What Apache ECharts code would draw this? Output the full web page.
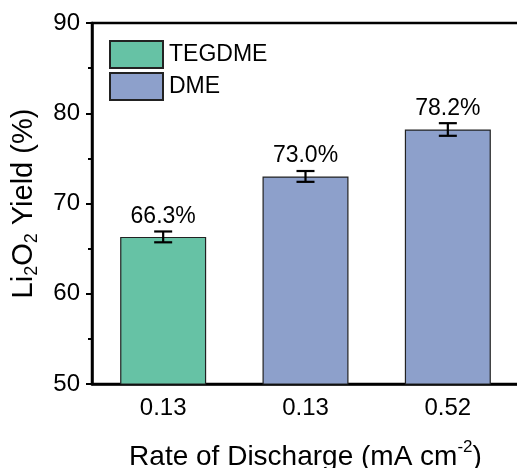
<!DOCTYPE html>
<html>
<head>
<meta charset="utf-8">
<script src="https://cdn.jsdelivr.net/npm/echarts@6/dist/echarts.min.js"></script>
<style>html,body{margin:0;padding:0;background:#fff;}#c{width:517px;height:468px;}</style>
</head>
<body>
<div id="c"></div>
<script>
const categories = ['0.13', '0.13', '0.52'];
const tegdmeValues = [66.3, '-', '-'];
const dmeValues = ['-', 73.0, 78.2];
const yieldValues = [66.3, 73.0, 78.2];
const errValues = [0.6, 0.6, 0.7];
const yTicks = [50, 60, 70, 80, 90];

const FONT = 'Liberation Sans, Arial, sans-serif';
const chart = echarts.init(document.getElementById('c'), null, {renderer: 'canvas'});

const errData = yieldValues.map((v, i) => [i, v - errValues[i], v + errValues[i]]);

chart.setOption({
  animation: false,
  textStyle: {fontFamily: FONT, color: '#000'},
  grid: {left: 92, top: 23, bottom: 84, right: -2, outerBoundsMode: 'none', containLabel: false,
    show: true, borderColor: '#000', borderWidth: 2.5, backgroundColor: 'transparent'},
  legend: {
    orient: 'vertical', left: 109, top: 40, padding: 0, itemWidth: 53, itemHeight: 27, itemGap: 3,
    icon: 'rect',
    textStyle: {fontFamily: FONT, fontSize: 23, color: '#000', padding: [0,0,0,1]},
    data: ['TEGDME', 'DME']
  },
  xAxis: {
    type: 'category', data: categories,
    axisLine: {lineStyle: {color: '#000', width: 2.5}},
    axisTick: {show: false},
    axisLabel: {fontFamily: FONT, fontSize: 24, color: '#000', margin: 12},
    name: '{t|Rate of Discharge (mA cm}{sup|-2}{t|)}',
    nameLocation: 'middle', nameGap: 55,
    nameTextStyle: {
      rich: {
        t: {fontFamily: FONT, fontSize: 28, color: '#000', lineHeight: 32, verticalAlign: 'bottom'},
        sup: {fontFamily: FONT, fontSize: 17, color: '#000', lineHeight: 32, verticalAlign: 'top'}
      }
    }
  },
  yAxis: {
    type: 'value', min: 50, max: 90, interval: 10,
    axisLine: {show: true, lineStyle: {color: '#000', width: 2.5}},
    axisTick: {show: true, length: 6, lineStyle: {color: '#000', width: 2}},
    minorTick: {show: true, splitNumber: 2, length: 4, lineStyle: {color: '#000', width: 2}},
    splitLine: {show: false},
    axisLabel: {fontFamily: FONT, fontSize: 24, color: '#000', margin: 12,
      formatter: v => yTicks.includes(v) ? String(v) : ''},
    name: '{t|Li}{sub|2}{t|O}{sub|2}{t| Yield (%)}',
    nameLocation: 'middle', nameGap: 51, nameRotate: 90,
    nameTextStyle: {
      rich: {
        t: {fontFamily: FONT, fontSize: 29, color: '#000', lineHeight: 32, verticalAlign: 'top'},
        sub: {fontFamily: FONT, fontSize: 18, color: '#000', lineHeight: 32, verticalAlign: 'bottom'}
      }
    }
  },
  series: [
    {
      name: 'TEGDME', type: 'bar', data: tegdmeValues, barWidth: 86, barGap: '-100%',
      itemStyle: {color: '#66c2a5', borderColor: '#222', borderWidth: 1.2},
      label: {show: true, position: 'top', distance: 9, fontFamily: FONT, fontSize: 23, color: '#000',
        formatter: p => p.value.toFixed(1) + '%'}
    },
    {
      name: 'DME', type: 'bar', data: dmeValues, barWidth: 86, barGap: '-100%',
      itemStyle: {color: '#8da0cb', borderColor: '#222', borderWidth: 1.2},
      label: {show: true, position: 'top', distance: 9, fontFamily: FONT, fontSize: 23, color: '#000',
        formatter: p => p.value.toFixed(1) + '%'}
    },
    {
      type: 'custom', data: errData, z: 10, silent: true,
      renderItem: (params, api) => {
        const x = api.value(0);
        const lo = api.coord([x, api.value(1)]);
        const hi = api.coord([x, api.value(2)]);
        const hw = 9;
        const style = {stroke: '#000', lineWidth: 2.2, fill: null};
        return {type: 'group', children: [
          {type: 'line', shape: {x1: lo[0], y1: lo[1], x2: hi[0], y2: hi[1]}, style},
          {type: 'line', shape: {x1: lo[0]-hw, y1: lo[1], x2: lo[0]+hw, y2: lo[1]}, style},
          {type: 'line', shape: {x1: hi[0]-hw, y1: hi[1], x2: hi[0]+hw, y2: hi[1]}, style}
        ]};
      }
    }
  ]
});
</script>
</body>
</html>
